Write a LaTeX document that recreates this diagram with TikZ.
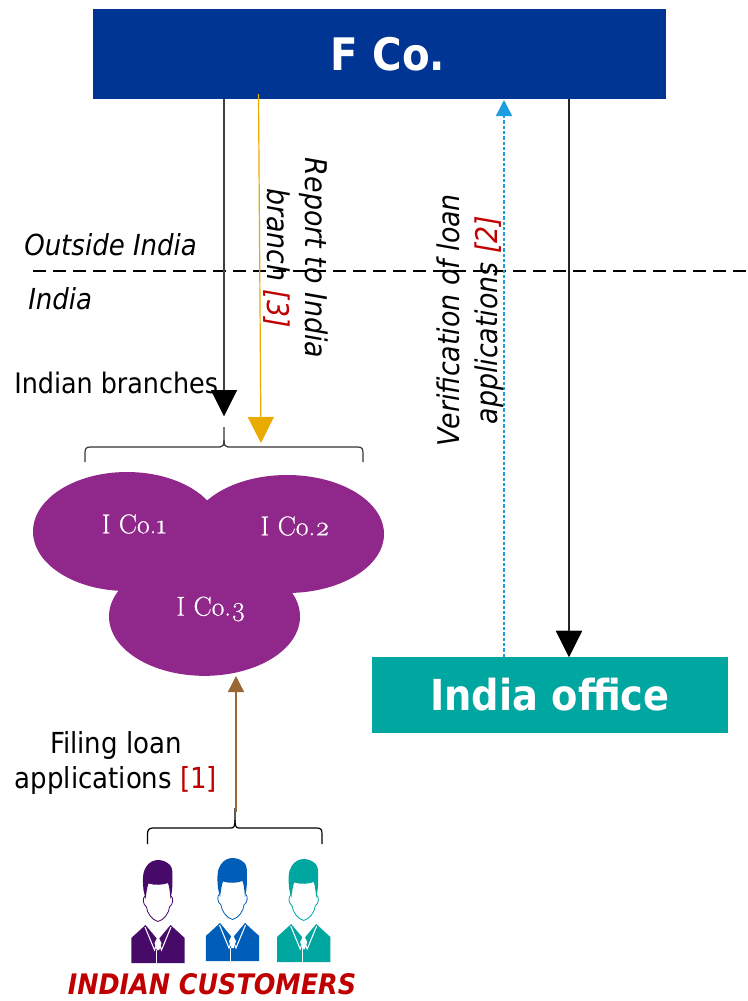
\documentclass[tikz,border=0pt]{standalone}
\usepackage{fontspec}
\setmainfont{DejaVu Sans Condensed}
\newfontfamily\colabfont{Latin Modern Roman}[Numbers=OldStyle,FakeBold=0.5]
\usetikzlibrary{arrows.meta,shapes.geometric}
\definecolor{fcoblue}{HTML}{003594}
\definecolor{teal2}{HTML}{00A6A0}
\definecolor{purp}{HTML}{90278A}
\definecolor{gold}{HTML}{EAAB00}
\definecolor{sky}{HTML}{1B9DDE}
\definecolor{brownish}{HTML}{9A6633}
\definecolor{redtxt}{HTML}{C00000}
\definecolor{pers1}{HTML}{470A68}
\definecolor{pers2}{HTML}{005EB8}
\tikzset{
  x=0.75pt,y=-0.75pt,
  banner/.style={draw=none,fill=#1,text=white,font=\bfseries,inner sep=0pt},
  co/.style={ellipse,fill=purp,draw=none,inner sep=0pt},
  colabel/.style={text=white,font=\fontsize{20.5}{24}\colabfont,inner sep=0pt},
  lab/.style={font=\fontsize{21.7}{26}\selectfont,align=center,inner sep=0pt},
  ilab/.style={font=\fontsize{21.7}{28}\selectfont\itshape,align=center,inner sep=0pt},
  vlab/.style={font=\fontsize{22.4}{28.5}\selectfont\itshape,align=center,inner sep=0pt},
  bigarrow/.style={-{Triangle[length=19.5pt,width=19.5pt]},line width=0.9pt,draw=#1},
  smallarrow/.style={-{Triangle[length=12pt,width=12pt]},line width=1pt,draw=#1},
  bracel/.style={draw=black!80,line width=0.9pt},
  pics/person/.style={code={
    % body
    \fill[#1] (-26.7,103) -- (-26.7,78) -- (-12.5,65) -- (0,80) -- (12.5,65) -- (26.7,78) -- (26.7,103) -- cycle;
    \draw[white,line width=0.8pt] (-13,67) -- (-3.5,90) -- (-0.5,82);
    \draw[white,line width=0.8pt] (13,67) -- (3.5,90) -- (0.5,82);
    \fill[white] (0,76) -- (3.5,83) -- (1.2,90) -- (-1.2,90) -- (-3.5,83) -- cycle;
    \draw[white,line width=0.5pt] (-1.7,90) -- (-1.7,103);
    % face
    \path[draw=#1,fill=white,line width=0.6pt] (-13,36) .. controls (-15.5,38) and (-15.5,44) .. (-11.5,47) .. controls (-11,53) and (-6,60) .. (0,61.5) .. controls (6,60) and (11,53) .. (11.5,47) .. controls (15.5,44) and (15.5,38) .. (13,36);
    % hair
    \fill[#1] (-12.5,39) -- (-14.5,30) .. controls (-15.5,20) and (-15.5,12) .. (-12,7) .. controls (-9,2) and (-4,0) .. (0,0) .. controls (5,0) and (9,2) .. (12,5) .. controls (14.5,8) and (14.5,12) .. (14.5,18) .. controls (14.5,24) and (14.5,30) .. (12.5,39) .. controls (12,33) and (11.5,27) .. (10,23) .. controls (5,25) and (-3,25.5) .. (-9.5,23.5) .. controls (-11,27) and (-11.5,33) .. (-12.5,39) -- cycle;
  }}
}
\begin{document}
\begin{tikzpicture}
\useasboundingbox (0,0) rectangle (748,1001);
\node[banner=fcoblue,minimum width=429.75pt,minimum height=67.5pt] (fco) at (379.5,54) {\fontsize{33.6}{38}\selectfont\hspace*{12.75pt}F Co.};
\node[banner=teal2,minimum width=267pt,minimum height=57pt] (office) at (550,695) {\fontsize{32}{36}\selectfont India office};
% boundary
\coordinate (dashL) at (33,271);
\coordinate (dashR) at (748,271);
\draw[black,line width=1.1pt,dash pattern=on 9.5pt off 5.5pt] (dashL) -- (dashR);
\node[ilab,anchor=west] (outside) at (24,245) {Outside India};
\node[ilab,anchor=west] (india) at (28,299) {India};
% ellipses
\node[co,minimum width=141pt,minimum height=89.25pt] (c1) at (127,531.5) {};
\node[co,minimum width=145.5pt,minimum height=88.5pt] (c2) at (287,534) {};
\node[co,minimum width=143.25pt,minimum height=89pt] (c3) at (204.5,616.5) {};
\node[colabel] (l1) at (134,524) {I Co.1};
\node[colabel] (l2) at (295,526) {I Co.2};
\node[colabel] (l3) at (211,609) {I Co.3};
% braces
\coordinate (b1l) at (85,462);
\coordinate (b1r) at (363,462);
\coordinate (b1t) at (224,427);
\draw[bracel] (b1l) -- (85,453) .. controls (85,449) and (86,447) .. (90,447) -- (220,447) .. controls (223,447) and (224,445) .. (224,440) -- (b1t);
\draw[bracel] (b1r) -- (363,453) .. controls (363,449) and (362,447) .. (358,447) -- (228,447) .. controls (225,447) and (224,445) .. (224,440);
\coordinate (b2l) at (147.5,844);
\coordinate (b2r) at (322,844);
\coordinate (b2t) at (235,808);
\draw[bracel,draw=black] (b2l) -- (147.5,834) .. controls (147.5,830) and (149,828) .. (153,828) -- (231,828) .. controls (234,828) and (235,826) .. (235,820) -- (b2t);
\draw[bracel,draw=black] (b2r) -- (322,834) .. controls (322,830) and (321,828) .. (317,828) -- (239,828) .. controls (236,828) and (235,826) .. (235,820);
% arrows
\coordinate (a1s) at (224,99);
\coordinate (a1e) at (224,416);
\draw[bigarrow=black!75] (a1s) -- (a1e);
\fill[black] (211,390) -- (237,390) -- (224,416) -- cycle;
\coordinate (a2s) at (258.5,94);
\coordinate (a2e) at (261,443);
\draw[bigarrow=gold] (a2s) -- (a2e);
\coordinate (a3s) at (504,657);
\coordinate (a3e) at (504,100);
\draw[smallarrow=sky,dash pattern=on 2.5pt off 1.5pt,line width=1.1pt] (a3s) -- (a3e);
\coordinate (a4s) at (569,99);
\draw[bigarrow=black!85] (a4s) -- (office.north -| a4s);
\fill[black] (556,631) -- (582,631) -- (569,657) -- cycle;
\coordinate (a5s) at (236,812);
\coordinate (a5e) at (236,676);
\draw[smallarrow=brownish] (a5s) -- (a5e);
% texts
\node[lab,anchor=west,font=\fontsize{21.2}{26}\selectfont] (branches) at (14,383) {Indian branches};
\node[lab] (filing) at (116,763) {Filing loan\\applications {\color{redtxt}[1]}};
\node[vlab,rotate=-90] (report) at (296,258) {Report to India\\branch {\color{redtxt}[3]}};
\node[vlab,rotate=90] (verif) at (470,320) {Verification of loan\\applications {\color{redtxt}[2]}};
% people
\pic at (158,860) {person=pers1};
\pic at (232.5,858) {person=pers2};
\pic at (303.7,859) {person=teal2};
\node[font=\fontsize{21.2}{24}\selectfont\bfseries\itshape,text=redtxt,inner sep=0pt,anchor=base] (cust) at (212,994) {INDIAN CUSTOMERS};
\end{tikzpicture}
\end{document}
